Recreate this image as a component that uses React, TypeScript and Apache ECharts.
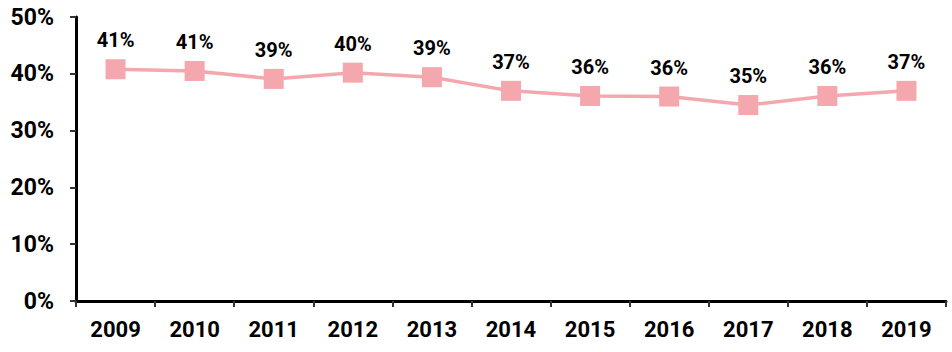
import React, { useEffect, useRef } from "react";
import * as echarts from "echarts";

const years = ["2009", "2010", "2011", "2012", "2013", "2014", "2015", "2016", "2017", "2018", "2019"];
const shares = [40.8, 40.5, 39.1, 40.2, 39.4, 37.0, 36.1, 36.0, 34.5, 36.1, 37.0];
const yTicks = { min: 0, max: 50, interval: 10 };

export default function App() {
  const ref = useRef<HTMLDivElement>(null);
  useEffect(() => {
    if (!ref.current) return;
    const chart = echarts.init(ref.current, null, { renderer: "svg" });
    chart.setOption({
      animation: false,
      grid: { left: 76, right: 6, top: 17, bottom: 51, containLabel: false },
      xAxis: {
        type: "category",
        data: years,
        boundaryGap: true,
        axisLine: { show: true, lineStyle: { color: "#000", width: 3 } },
        axisTick: { show: true, length: 6, lineStyle: { color: "#333", width: 2 } },
        axisLabel: {
          color: "#000",
          fontFamily: "Roboto",
          fontWeight: "bold",
          fontSize: 22,
          margin: 17,
        },
      },
      yAxis: {
        type: "value",
        min: yTicks.min,
        max: yTicks.max,
        interval: yTicks.interval,
        splitLine: { show: false },
        axisLine: { show: true, lineStyle: { color: "#000", width: 3 } },
        axisTick: { show: true, length: 6, lineStyle: { color: "#333", width: 2 } },
        axisLabel: {
          color: "#000",
          fontFamily: "Roboto",
          fontWeight: "bold",
          fontSize: 23,
          margin: 22,
          formatter: (v: number) => v + "%",
        },
      },
      series: [
        {
          type: "line",
          data: shares,
          symbol: "rect",
          symbolSize: 20,
          lineStyle: { color: "#f5a7ae", width: 3.5 },
          itemStyle: { color: "#f5a7ae" },
          label: {
            show: true,
            position: "top",
            distance: 9,
            color: "#000",
            fontFamily: "Roboto",
            fontWeight: "bold",
            fontSize: 20,
            formatter: (p: any) => Math.round(p.value) + "%",
          },
        },
      ],
    });
    return () => chart.dispose();
  }, []);
  return <div ref={ref} style={{ width: 952, height: 352, position: "absolute", left: 0, top: 0 }} />;
}
